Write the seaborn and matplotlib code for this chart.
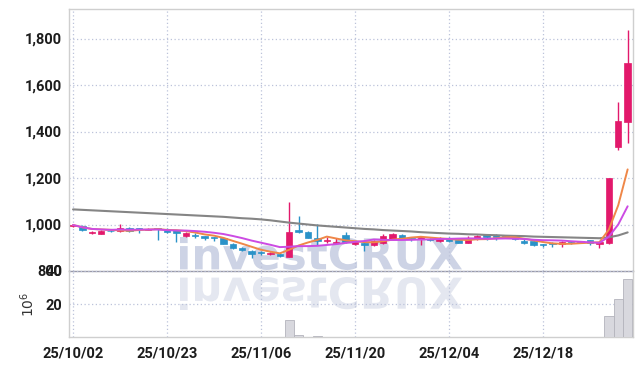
import numpy as np
import pandas as pd
import matplotlib
matplotlib.use("Agg")
import matplotlib.pyplot as plt
import seaborn as sns
from matplotlib.textpath import TextPath
from matplotlib.patches import PathPatch
from matplotlib.font_manager import FontProperties
from matplotlib.transforms import Affine2D
from matplotlib.ticker import FuncFormatter

# ---------------- data ----------------
opens = [995, 995, 964, 960, 973, 970, 986, 985, 978, 985,
         980, 975, 950, 955, 950, 945, 943, 917, 899, 886,
         881, 872, 874, 862, 975, 968, 943, 929, 920, 953,
         915, 922, 913, 922, 939, 955, 940, 938, 936, 930,
         943, 933, 922, 938, 958, 957, 950, 941, 930, 930,
         915, 922, 915, 925, 925, 933, 915, 920, 1334, 1439]
highs = [1000, 998, 972, 975, 978, 1001, 988, 986, 985, 986,
         983, 977, 969, 962, 952, 948, 946, 922, 902, 889,
         885, 880, 877, 1095, 1035, 972, 1001, 945, 942, 966,
         928, 925, 934, 958, 962, 958, 944, 949, 940, 946,
         946, 936, 950, 953, 960, 960, 953, 945, 938, 932,
         916, 924, 928, 928, 928, 935, 928, 1200, 1528, 1836]
lows = [990, 973, 960, 958, 966, 968, 966, 962, 975, 933,
        962, 926, 948, 942, 935, 930, 915, 893, 886, 855,
        868, 868, 860, 860, 962, 940, 912, 920, 915, 922,
        912, 888, 908, 918, 935, 940, 928, 912, 928, 926,
        925, 920, 920, 935, 933, 935, 940, 932, 916, 908,
        905, 905, 905, 918, 920, 910, 900, 915, 1320, 1349]
closes = [998, 978, 967, 972, 970, 986, 971, 982, 981, 981,
          969, 965, 962, 951, 940, 942, 917, 898, 889, 875,
          878, 875, 863, 967, 966, 943, 930, 934, 926, 926,
          925, 910, 930, 950, 960, 943, 937, 946, 933, 943,
          930, 922, 938, 950, 946, 947, 944, 938, 919, 910,
          912, 916, 926, 922, 923, 922, 925, 1199, 1446, 1693]
# long moving average (gray)
ma_long = [1065, 1063, 1061, 1059, 1057, 1055, 1053, 1051, 1049, 1047,
           1045, 1043, 1041, 1039, 1037, 1035, 1033, 1030, 1027, 1025,
           1022, 1018, 1013, 1008, 1004, 1000, 996, 993, 990, 987,
           984, 981, 979, 976, 974, 972, 970, 967, 965, 963,
           961, 960, 958, 957, 955, 954, 952, 951, 950, 948,
           947, 946, 945, 944, 943, 942, 941, 945, 953, 966]
# volume in millions
volume = [0.1, 0.1, 0.1, 0.1, 0.1, 0.1, 0.1, 0.1, 0.1, 0.1,
          0.1, 0.1, 0.1, 0.1, 0.1, 0.1, 0.1, 0.1, 0.1, 0.1,
          0.1, 0.1, 0.1, 10.5, 1.5, 0.1, 0.8, 0.1, 0.1, 0.1,
          0.1, 0.1, 0.1, 0.1, 0.1, 0.1, 0.1, 0.1, 0.1, 0.1,
          0.1, 0.1, 0.1, 0.1, 0.1, 0.1, 0.1, 0.1, 0.1, 0.1,
          0.1, 0.1, 0.1, 0.1, 0.1, 0.1, 0.1, 13.0, 23.0, 35.0]
tick_pos = [0, 10, 20, 30, 40, 50]
tick_labels = ["25/10/02", "25/10/23", "25/11/06", "25/11/20", "25/12/04", "25/12/18"]
price_ticks = [800, 1000, 1200, 1400, 1600, 1800]
vol_ticks = [20, 40]

df = pd.DataFrame({"open": opens, "high": highs, "low": lows, "close": closes,
                   "ma_long": ma_long, "volume": volume})
df["idx"] = np.arange(len(df))
df["ma5"] = df["close"].rolling(5, min_periods=1).mean()
df["ma10"] = df["close"].rolling(10, min_periods=1).mean()

# ---------------- style ----------------
sns.set_style("white")
plt.rcParams["font.family"] = ["Roboto", "DejaVu Sans"]

TICKFP = FontProperties(family=["Roboto", "DejaVu Sans"], weight="bold", size=10.5)

UP = "#e2196b"
DOWN = "#2a92c8"
GRID = "#bcc3da"
SPINE = "#cfcfcf"

W, H = 643, 366
fig = plt.figure(figsize=(W / 100, H / 100), dpi=100)
fig.patch.set_facecolor("white")

L, R = 69 / W, 633 / W
ax = fig.add_axes([L, 1 - 271 / H, R - L, (271 - 9) / H])
axv = fig.add_axes([L, 1 - 337 / H, R - L, (337 - 271) / H], sharex=ax)
for a in (ax, axv):
    a.set_facecolor("none")

# ---------------- watermark ----------------
fp = FontProperties(family="DejaVu Sans", weight="bold")
tp = TextPath((0, 0), "investCRUX", size=1, prop=fp)
bb = tp.get_extents()
x0, x1 = 180, 462
ytop, ybot = 237, 270
sx = (x1 - x0) / bb.width
sy = (ybot - ytop) / bb.height
tr_main = (Affine2D().translate(-bb.x0, -bb.y0).scale(sx, sy)
           .translate(x0, H - ybot).scale(1 / W, 1 / H) + fig.transFigure)
fig.patches.append(PathPatch(tp, transform=tr_main, facecolor="#cdd3e5",
                             edgecolor="none", zorder=-1))
rtop = 277
tr_ref = (Affine2D().translate(-bb.x0, -bb.y0).scale(sx, -sy)
          .translate(x0, H - rtop).scale(1 / W, 1 / H) + fig.transFigure)
fig.patches.append(PathPatch(tp, transform=tr_ref, facecolor="#e4e7f0",
                             edgecolor="none", zorder=-1))

# ---------------- candles ----------------
colors = [UP if c >= o else DOWN for o, c in zip(df["open"], df["close"])]
ax.vlines(df["idx"], df["low"], df["high"], colors=colors, linewidth=1.0, zorder=3)
bottoms = np.minimum(df["open"], df["close"])
heights = np.maximum(np.abs(df["close"] - df["open"]), 4)
ax.bar(df["idx"], heights, bottom=bottoms, width=0.68, color=colors,
       edgecolor=colors, linewidth=0.5, zorder=4)

# moving averages
sns.lineplot(data=df, x="idx", y="ma_long", ax=ax, color="#858585", linewidth=1.5, zorder=5)
sns.lineplot(data=df, x="idx", y="ma5", ax=ax, color="#ef8748", linewidth=1.4, zorder=6)
sns.lineplot(data=df, x="idx", y="ma10", ax=ax, color="#cc4be3", linewidth=1.4, zorder=6)

# ---------------- volume ----------------
sns.barplot(data=df, x="idx", y="volume", ax=axv, native_scale=True, width=1.0,
            color="#d8d8de", edgecolor="#b4b4bc", linewidth=0.6, saturation=1, zorder=3)

# ---------------- axes formatting ----------------
ax.set_xlim(-0.43, 59.57)
ax.set_ylim(800, 1927)
axv.set_ylim(0, 40)

ax.set_yticks(price_ticks)
ax.yaxis.set_major_formatter(FuncFormatter(lambda v, p: f"{int(v):,}"))
axv.set_yticks(vol_ticks)
axv.set_xticks(tick_pos)
axv.set_xticklabels(tick_labels)
plt.setp(ax.get_xticklabels(), visible=False)

for a in (ax, axv):
    a.tick_params(axis="both", length=0, colors="#1c1c1c")
    a.tick_params(axis="y", pad=5)
    a.tick_params(axis="x", pad=7)
    for lab in a.get_yticklabels() + a.get_xticklabels():
        lab.set_fontproperties(TICKFP)
    a.grid(True, linestyle=(0, (1, 2)), color=GRID, linewidth=0.9)
    a.set_axisbelow(True)
    for s in a.spines.values():
        s.set_color(SPINE)
        s.set_linewidth(1.0)
    a.set_xlabel("")
    a.set_ylabel("")

ax.spines["bottom"].set_color("#9a9aa8")
ax.spines["bottom"].set_linestyle((0, (2, 1)))
axv.spines["top"].set_visible(False)

axv.set_ylabel("$10^6$", fontsize=10, color="#333333", labelpad=6,
               family="DejaVu Sans")

fig.savefig("out.png", dpi=100, facecolor="white")
